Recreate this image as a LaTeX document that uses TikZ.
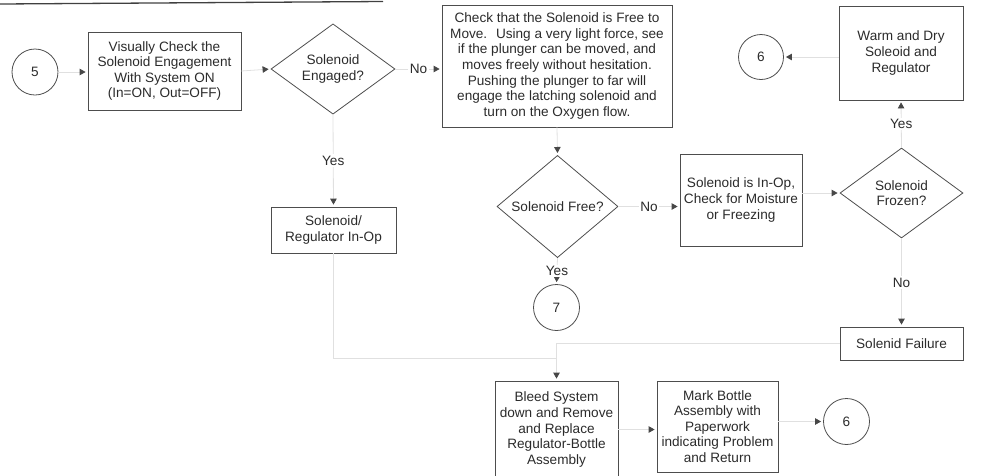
\documentclass[tikz,border=0pt]{standalone}
\usepackage{fontspec}
\setmainfont{Liberation Sans}
\usetikzlibrary{shapes.geometric,arrows.meta}
\definecolor{ink}{HTML}{2B2B2B}
\definecolor{edge}{HTML}{4D4D4D}
\begin{document}
\begin{tikzpicture}[x=1pt,y=-1pt,
  every node/.style={font=\fontsize{13.6}{15.6}\selectfont, text=ink},
  box/.style={draw=edge, line width=0.8pt, rectangle, align=center, inner sep=0pt},
  decision/.style={draw=edge, line width=0.8pt, diamond, align=center, inner sep=0pt},
  connector/.style={draw=edge, line width=0.8pt, circle, inner sep=0pt, minimum size=46pt},
  flow/.style={draw=black!12, line width=0.8pt,
    -{Triangle[length=6pt,width=6.5pt,color=black!72]}, shorten >=2pt},
  plainline/.style={draw=black!12, line width=0.8pt},
  tag/.style={fill=white, inner sep=1.5pt}
]
\useasboundingbox (0,0) rectangle (989,475);

% heading rule along the top edge
\draw[line width=1.3pt, black!75] (0,4) -- (383,1.5);

% ---- nodes ----
\node[connector] (c5) at (35,72) {5};
\node[box, minimum width=153pt, minimum height=78pt] (check) at (164.5,71)
  {Visually Check the\\Solenoid Engagement\\With System ON\\(In=ON, Out=OFF)};
\node[decision, minimum width=124pt, minimum height=88pt] (engaged) at (333,69)
  {Solenoid\\Engaged?};
\node[box, minimum width=230pt, minimum height=122pt] (free) at (557,66)
  {Check that the Solenoid is Free to\\Move.~ Using a very light force, see\\if the plunger can be moved, and\\moves freely without hesitation.\\Pushing the plunger to far will\\engage the latching solenoid and\\turn on the Oxygen flow.};
\node[connector, minimum size=45pt] (c6a) at (761,57) {6};
\node[box, minimum width=124pt, minimum height=94pt] (warm) at (901,53)
  {Warm and Dry\\Soleoid and\\Regulator};
\node[box, minimum width=125pt, minimum height=46pt] (reg) at (333.5,230)
  {Solenoid/\\Regulator In-Op};
\node[decision, minimum width=121pt, minimum height=87pt] (isfree) at (557.5,206.5)
  {Solenoid Free?};
\node[box, minimum width=122pt, minimum height=92pt] (inop) at (741,200)
  {Solenoid is In-Op,\\Check for Moisture\\or Freezing};
\node[decision, minimum width=123pt, minimum height=90pt] (frozen) at (901.5,193)
  {Solenoid\\Frozen?};
\node[connector] (c7) at (556.5,307.5) {7};
\node[box, minimum width=123pt, minimum height=33pt] (fail) at (901.5,343.5)
  {Solenid Failure};
\node[box, minimum width=123pt, minimum height=97pt] (bleed) at (556.5,429.5)
  {Bleed System\\down and Remove\\and Replace\\Regulator-Bottle\\Assembly};
\node[box, minimum width=121pt, minimum height=91pt] (mark) at (717.5,426.5)
  {Mark Bottle\\Assembly with\\Paperwork\\indicating Problem\\and Return};
\node[connector] (c6b) at (846.5,421.5) {6};
\coordinate (join) at (556.5,358);

% ---- connectors ----
\draw[flow] (c5.east) -- (c5.east -| check.west);
\draw[flow] (check.east) -- (engaged.west);
\draw[flow] (engaged.east) -- node[tag] {No} (engaged.east -| free.west);
\draw[flow] (engaged.south) -- node[tag] {Yes} (reg.north);
\draw[flow] (free.south) -- (isfree.north);
\draw[flow] (isfree.east) -- node[tag] {No} (isfree.east -| inop.west);
\draw[flow] (isfree.south) -- node[tag] {Yes} (c7.north);
\draw[flow] (frozen.west -| inop.east) -- (frozen.west);
\draw[flow] (frozen.north) -- node[tag] {Yes} (warm.south);
\draw[flow] (c6a.east -| warm.west) -- (c6a.east);
\draw[flow] (frozen.south) -- node[tag] {No} (fail.north);
\draw[flow] (reg.south) |- (join) -- (bleed.north);
\draw[plainline] (fail.west) -| (join);
\draw[flow] (bleed.east) -- (bleed.east -| mark.west);
\draw[flow] (c6b.west -| mark.east) -- (c6b.west);
\end{tikzpicture}
\end{document}
